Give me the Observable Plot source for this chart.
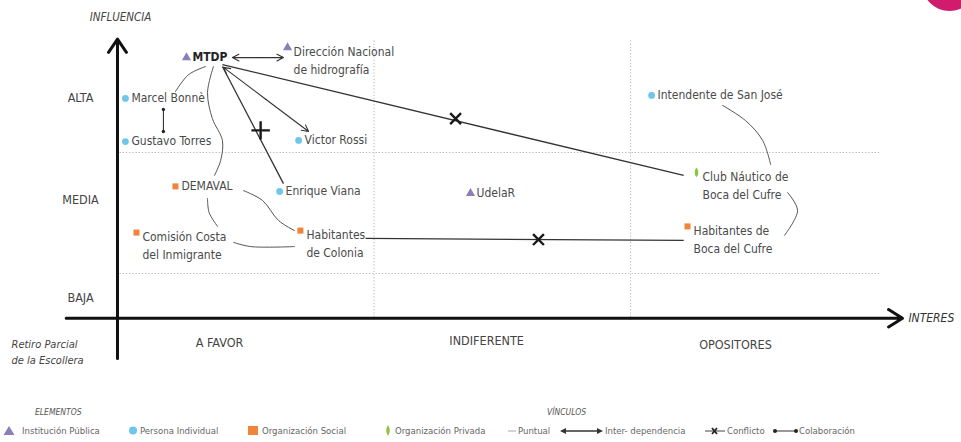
<!DOCTYPE html>
<html><head><meta charset="utf-8">
<script src="https://cdn.jsdelivr.net/npm/d3@7"></script>
<script src="https://cdn.jsdelivr.net/npm/@observablehq/plot@0.6"></script>
<style>
html,body{margin:0;padding:0;background:#fff;}
body{width:961px;height:442px;overflow:hidden;position:relative;font-family:"Liberation Sans Narrow","DejaVu Sans Condensed","Arial Narrow",sans-serif;}
#chart{position:absolute;left:0;top:0;}
#pink{position:absolute;left:922px;top:-44px;width:55px;height:55px;border-radius:50%;background:#d11c6d;}
#legend{position:absolute;left:0;top:395px;width:961px;height:47px;font-size:9.5px;color:#666;}
#legend .t{position:absolute;transform:translateY(-50%);white-space:nowrap;line-height:1;}
#legend .h{font-style:italic;font-size:8.5px;color:#555;}
#legend svg{position:absolute;overflow:visible;}
</style>
</head><body>
<div id="chart"></div>
<div id="pink"></div>
<div id="legend"></div>
<script>
// ---------- DATA ----------
const actorNames = ["MTDP","Dirección Nacional\nde hidrografía","Marcel Bonnè","Gustavo Torres","Victor Rossi",
  "Intendente de San José","DEMAVAL","Enrique Viana","UdelaR","Club Náutico de\nBoca del Cufre",
  "Comisión Costa\ndel Inmigrante","Habitantes\nde Colonia","Habitantes de\nBoca del Cufre"];
const actorTypes = ["Institución Pública","Institución Pública","Persona Individual","Persona Individual","Persona Individual",
  "Persona Individual","Organización Social","Persona Individual","Institución Pública","Organización Privada",
  "Organización Social","Organización Social","Organización Social"];
const actorInterest  = [0.269,0.663,0.031,0.031,0.706,2.082,0.226,0.632,1.376,2.257,0.074,0.713,2.222];
const actorInfluence = [9.39,9.75,7.93,6.39,6.43,8.04,4.79,4.61,4.54,5.29,3.14,3.21,3.36];

const elementTypes  = ["Institución Pública","Persona Individual","Organización Social","Organización Privada"];
const elementColors = ["#8a7fb9","#6ec6e9","#f0843a","#8cc43f"];

const influenceLevels = ["ALTA","MEDIA","BAJA"];
const influenceLevelY = [7.96,4.29,0.82];
const interestLevels = ["A FAVOR","INDIFERENTE","OPOSITORES"];
const interestLevelX = [0.398,1.439,2.409];
const interestLevelY = [-0.82,-0.75,-0.89];
const influenceBreaks = [1.68,6.0];
const interestBreaks = [1,2];

// links (points in interest / influence units)
const puntualPaths = [
  [[0.343,9.07],[0.277,8.78],[0.226,8.18]],                                   // MTDP - Marcel Bonnè
  [[0.374,9.07],[0.351,8.14],[0.370,7.21],[0.409,6.43],[0.402,5.71],[0.378,5.18]], // MTDP - DEMAVAL
  [[0.351,4.36],[0.357,3.86],[0.390,3.36]],                                   // DEMAVAL - Comisión
  [[0.491,4.64],[0.565,4.29],[0.628,3.57],[0.690,3.21]],                      // DEMAVAL - Hab. Colonia
  [[0.452,2.79],[0.519,2.64],[0.690,2.64]],                                   // Comisión - Hab. Colonia
  [[2.359,7.68],[2.448,7.14],[2.515,6.43],[2.546,5.57]],                      // Intendente - Club Náutico
  [[2.612,4.57],[2.651,3.93],[2.600,3.04]]                                    // Club Náutico - Hab. Boca
];
const conflictFrom  = [[0.409,9.14],[0.409,9.07],[0.967,2.93]];
const conflictTo    = [[2.207,5.18],[0.647,4.89],[2.207,2.86]];
const conflictMark  = [[1.318,7.21],[0.558,6.79],[1.641,2.89]];
const conflictShape = ["times","plus","times"];
const interFrom = [[0.448,9.39],[0.413,9.04]];
const interTo   = [[0.647,9.39],[0.745,6.75]];
const collabFrom = [[0.179,7.54]];
const collabTo   = [[0.179,6.75]];

// axes extents
const yAxisExtent = [-1.36,10.05];
const xAxisExtent = [-0.20,3.06];
const gridExtentX = [0.01,2.975];
const gridExtentY = [0,10];

// ---------- BUILD ----------
const actors = actorNames.map((name,i)=>({name,type:actorTypes[i],x:actorInterest[i],y:actorInfluence[i]}));
const puntual = puntualPaths.flatMap((p,id)=>p.map(([x,y])=>({id,x,y})));
const conflicts = conflictFrom.map((f,i)=>({x1:f[0],y1:f[1],x2:conflictTo[i][0],y2:conflictTo[i][1],mx:conflictMark[i][0],my:conflictMark[i][1],shape:conflictShape[i]}));
// interdependence: two arrows from the midpoint towards each end
const inter = interFrom.flatMap((f,i)=>{const t=interTo[i];const mx=(f[0]+t[0])/2,my=(f[1]+t[1])/2;
  return [{x1:mx,y1:my,x2:f[0],y2:f[1]},{x1:mx,y1:my,x2:t[0],y2:t[1]}];});
const collab = collabFrom.map((f,i)=>({x1:f[0],y1:f[1],x2:collabTo[i][0],y2:collabTo[i][1]}));

const leaf = {draw(ctx,size){const r=Math.sqrt(size/Math.PI);const ry=r*1.45,rx=r*0.7;
  ctx.moveTo(0,-ry);ctx.quadraticCurveTo(rx*1.6,0,0,ry);ctx.quadraticCurveTo(-rx*1.6,0,0,-ry);ctx.closePath();}};

const FONT = '"Liberation Sans Narrow","DejaVu Sans Condensed","Arial Narrow",sans-serif';
const single = actors.filter(d=>!d.name.includes("\n") && d.name!=="MTDP");
const multi = actors.filter(d=>d.name.includes("\n"));

const chart = Plot.plot({
  width:961, height:395,
  marginTop:0, marginBottom:0, marginLeft:0, marginRight:0,
  x:{domain:[-0.456,3.290], axis:null},
  y:{domain:[-2.679,11.429], axis:null},
  symbol:{domain:elementTypes, range:["triangle","circle","square",leaf]},
  color:{domain:elementTypes, range:elementColors},
  style:{fontFamily:FONT, background:"transparent", overflow:"visible"},
  marks:[
    // grid
    Plot.ruleY(influenceBreaks,{y:d=>d, x1:gridExtentX[0], x2:gridExtentX[1], stroke:"#b5b5b5", strokeWidth:1, strokeDasharray:"1.2,2"}),
    Plot.ruleX(interestBreaks,{x:d=>d, y1:gridExtentY[0], y2:gridExtentY[1], stroke:"#b5b5b5", strokeWidth:1, strokeDasharray:"1.2,2"}),
    // axes
    Plot.arrow([0],{x1:0, x2:0, y1:yAxisExtent[0], y2:yAxisExtent[1], stroke:"#111", strokeWidth:3, headAngle:68, headLength:8}),
    Plot.arrow([0],{x1:xAxisExtent[0], x2:xAxisExtent[1], y1:0.08, y2:0.08, stroke:"#111", strokeWidth:3, headAngle:64, headLength:8.2}),
    // links
    Plot.line(puntual,{x:"x", y:"y", z:"id", curve:"catmull-rom", stroke:"#555", strokeWidth:1}),
    Plot.link(conflicts,{x1:"x1", y1:"y1", x2:"x2", y2:"y2", stroke:"#333", strokeWidth:1.3}),
    Plot.dot(conflicts.filter(d=>d.shape==="times"),{x:"mx", y:"my", symbol:()=>"times", r:5, stroke:"#1a1a1a", strokeWidth:2.4}),
    Plot.dot(conflicts.filter(d=>d.shape==="plus"),{x:"mx", y:"my", symbol:()=>"plus", r:6, stroke:"#1a1a1a", strokeWidth:2.4}),
    Plot.arrow(inter,{x1:"x1", y1:"y1", x2:"x2", y2:"y2", stroke:"#333", strokeWidth:1.1, headAngle:55, headLength:10}),
    Plot.link(collab,{x1:"x1", y1:"y1", x2:"x2", y2:"y2", stroke:"#222", strokeWidth:1, markerStart:"dot", markerEnd:"dot"}),
    // actors
    Plot.dot(actors,{x:"x", y:"y", symbol:"type", fill:"type", r:3.4, stroke:"none"}),
    Plot.text(single,{x:"x", y:"y", text:"name", textAnchor:"start", dx:6, fontSize:12, fill:"#4a4a4a"}),
    Plot.text(multi,{x:"x", y:"y", text:"name", textAnchor:"start", dx:6, dy:-4.5, lineAnchor:"top", lineHeight:1.5, fontSize:12, fill:"#4a4a4a"}),
    Plot.text(actors.filter(d=>d.name==="MTDP"),{x:"x", y:"y", text:"name", textAnchor:"start", dx:6, fontSize:12, fontWeight:"bold", fill:"#222"}),
    // axis labels
    Plot.text(influenceLevels,{x:()=>-0.144, y:(d,i)=>influenceLevelY[i], text:d=>d, fontSize:12.5, fill:"#444"}),
    Plot.text(interestLevels,{x:(d,i)=>interestLevelX[i], y:(d,i)=>interestLevelY[i], text:d=>d, fontSize:12.5, fill:"#444"}),
    Plot.text(["INFLUENCIA"],{x:()=>0.012, y:()=>10.82, text:d=>d, fontSize:11.5, fontStyle:"italic", fill:"#444"}),
    Plot.text(["INTERES"],{x:()=>3.083, y:()=>0.08, text:d=>d, textAnchor:"start", fontSize:12, fontStyle:"italic", fill:"#333"}),
    Plot.text(["Retiro Parcial\nde la Escollera"],{x:()=>-0.413, y:()=>-0.71, text:d=>d, textAnchor:"start", lineAnchor:"top", dy:-4, lineHeight:1.45, fontSize:11, fontStyle:"italic", fill:"#444"})
  ]
});
document.getElementById("chart").appendChild(chart);

// ---------- LEGEND ----------
const lg = document.getElementById("legend");
function txt(s,x,y,cls){const e=document.createElement("span");e.className="t"+(cls?" "+cls:"");e.textContent=s;e.style.left=x+"px";e.style.top=y+"px";lg.appendChild(e);}
function icon(svg,x,y,w,h){const d=document.createElement("div");d.innerHTML=`<svg width="${w}" height="${h}" style="left:${x}px;top:${y}px">${svg}</svg>`;lg.appendChild(d.firstChild);}
txt("ELEMENTOS",35,17,"h");
txt("VÍNCULOS",547,17,"h");
const elemX = [3,128,248,384];
const elemTextX = [22,140,262,395];
elementTypes.forEach((t,i)=>{
  const c=elementColors[i];
  let s;
  if(i===0) s=`<path d="M6,1 L11.5,10 L0.5,10 Z" fill="${c}"/>`;
  else if(i===1) s=`<circle cx="5" cy="5.5" r="4" fill="${c}"/>`;
  else if(i===2) s=`<rect x="0" y="1" width="10" height="9" fill="${c}"/>`;
  else s=`<path d="M4,0 Q7.5,5.5 4,11 Q0.5,5.5 4,0 Z" fill="${c}"/>`;
  icon(s,elemX[i],30,12,12);
  txt(t,elemTextX[i],36);
});
icon(`<line x1="0" y1="5" x2="8" y2="5" stroke="#aaa" stroke-width="1"/>`,508,31,9,10);
txt("Puntual",518,36);
icon(`<line x1="3" y1="5" x2="40" y2="5" stroke="#333" stroke-width="1.3"/><path d="M0,5 L6,2 L6,8 Z" fill="#333"/><path d="M43,5 L37,2 L37,8 Z" fill="#333"/>`,560,31,44,10);
txt("Inter- dependencia",605,36);
icon(`<line x1="0" y1="5" x2="20" y2="5" stroke="#444" stroke-width="1"/><path d="M7,2 L12,8 M12,2 L7,8" stroke="#222" stroke-width="1.8"/>`,705,31,21,10);
txt("Conflicto",727,36);
icon(`<line x1="2" y1="5" x2="23" y2="5" stroke="#333" stroke-width="1"/><circle cx="2" cy="5" r="2" fill="#222"/><circle cx="23" cy="5" r="2" fill="#222"/>`,773,31,26,10);
txt("Colaboración",799,36);
</script>
</body></html>
